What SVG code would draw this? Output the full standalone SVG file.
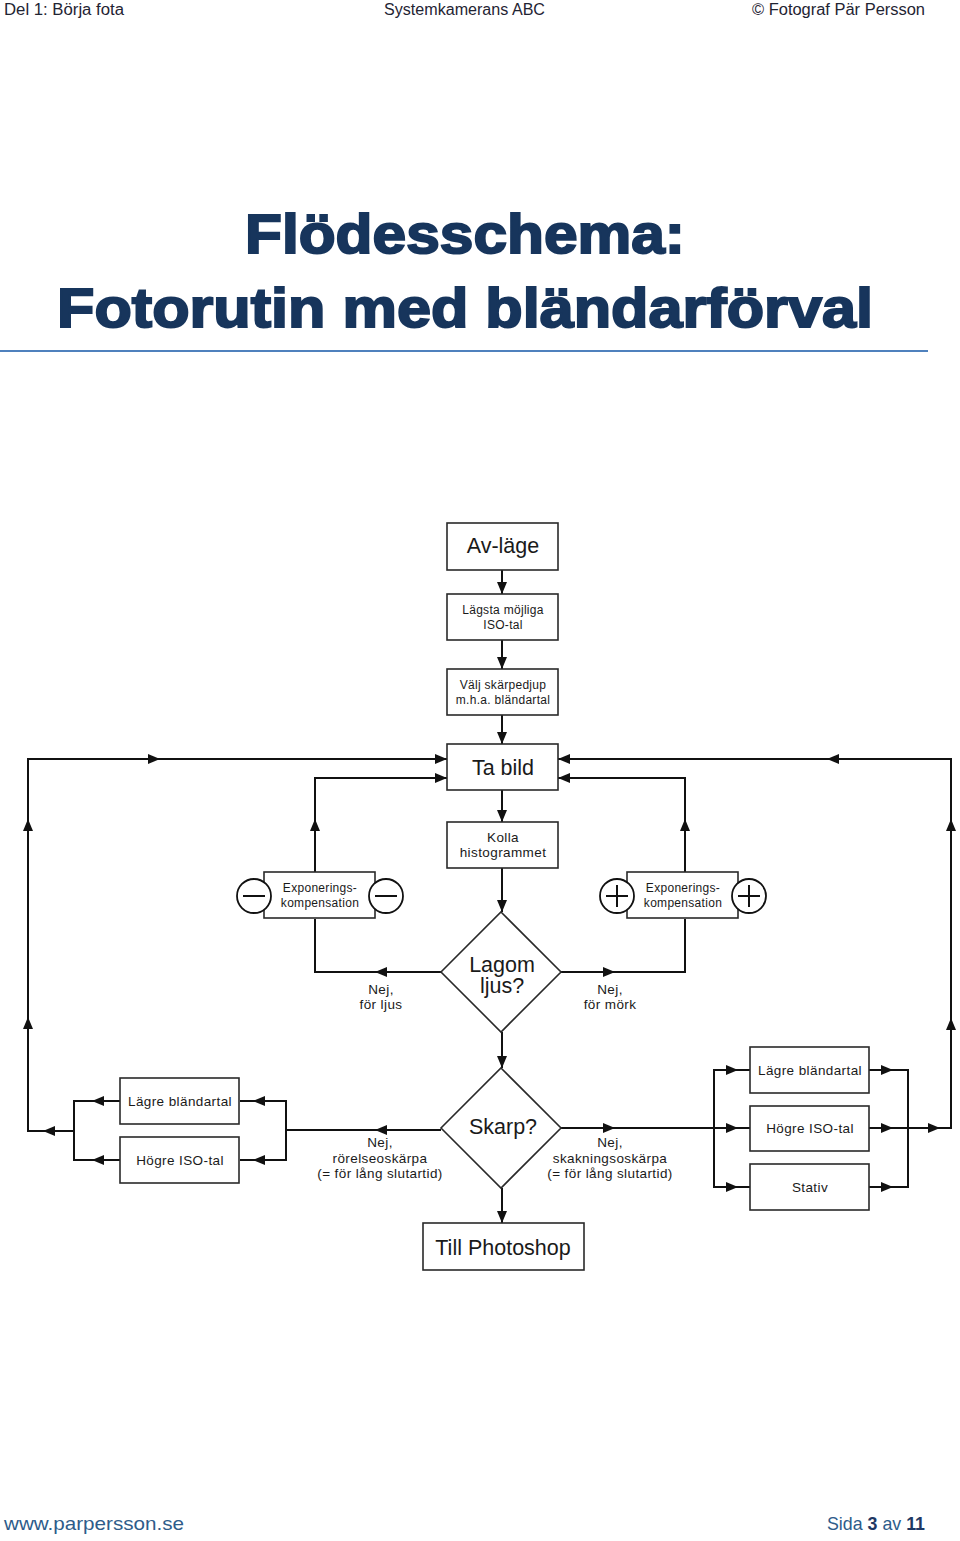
<svg xmlns="http://www.w3.org/2000/svg" width="960" height="1541" viewBox="0 0 960 1541">
<defs>
<marker id="arr" markerUnits="userSpaceOnUse" markerWidth="13" markerHeight="11" refX="12" refY="5.5" orient="auto">
<path d="M0,0.5 L12,5.5 L0,10.5 z" fill="#111"/>
</marker>
</defs>
<style>
.hd{font-family:"Liberation Sans",Arial,sans-serif;font-size:16px;fill:#1F2433}
.ft{font-family:"Liberation Sans",Arial,sans-serif;font-size:19px;fill:#2E5C8A}
.ttl{font-family:"Liberation Sans",Arial,sans-serif;font-weight:bold;font-size:56px;fill:#17355C;stroke:#17355C;stroke-width:2;text-anchor:middle}
.box{fill:#fff;stroke:#2a2a2a;stroke-width:1.6}
.dia{fill:#fff;stroke:#2a2a2a;stroke-width:1.6}
.big{font-family:"Liberation Sans",Arial,sans-serif;font-size:21.5px;fill:#1a1a1a;text-anchor:middle}
.sm{font-family:"Liberation Sans",Arial,sans-serif;font-size:12px;letter-spacing:0.3px;fill:#1a1a1a;text-anchor:middle}
.md{font-family:"Liberation Sans",Arial,sans-serif;font-size:13.5px;letter-spacing:0.4px;fill:#1a1a1a;text-anchor:middle}
.ln{fill:none;stroke:#111;stroke-width:2}
.a{fill:none;stroke:#111;stroke-width:2;marker-end:url(#arr)}
.circ{fill:#fff;stroke:#111;stroke-width:1.8}
.sym{fill:none;stroke:#111;stroke-width:2}
</style>
<rect width="960" height="1541" fill="#fff"/>
<!-- header -->
<text class="hd" x="4" y="15" textLength="120" lengthAdjust="spacingAndGlyphs">Del 1: Börja fota</text>
<text class="hd" x="384" y="15" textLength="161" lengthAdjust="spacingAndGlyphs">Systemkamerans ABC</text>
<text class="hd" x="752" y="15" textLength="173" lengthAdjust="spacingAndGlyphs">© Fotograf Pär Persson</text>
<!-- title -->
<text class="ttl" x="465" y="253" textLength="440" lengthAdjust="spacingAndGlyphs">Flödesschema:</text>
<text class="ttl" x="465" y="327" textLength="816" lengthAdjust="spacingAndGlyphs">Fotorutin med bländarförval</text>
<line x1="0" y1="351" x2="928" y2="351" stroke="#4F81BD" stroke-width="2"/>
<!-- footer -->
<text class="ft" x="4" y="1530" textLength="180" lengthAdjust="spacingAndGlyphs">www.parpersson.se</text>
<text class="ft" x="827" y="1530" textLength="98" lengthAdjust="spacingAndGlyphs">Sida <tspan font-weight="bold" fill="#1F3864">3</tspan> av <tspan font-weight="bold" fill="#1F3864">11</tspan></text>

<!-- connectors -->
<g id="connectors">
<path class="a" d="M502,570 V594"/>
<path class="a" d="M502,640 V669"/>
<path class="a" d="M502,715 V744"/>
<path class="a" d="M502,790 V822"/>
<path class="a" d="M502,868 V912"/>
<path class="a" d="M502,1032 V1068"/>
<path class="a" d="M502,1188 V1223"/>
<!-- left exposure loop -->
<path class="a" d="M441,972 H375"/>
<path class="ln" d="M376,972 H315 V919"/>
<path class="a" d="M315,872 V819"/>
<path class="a" d="M315,820 V778 H447"/>
<!-- right exposure loop -->
<path class="a" d="M561,972 H615"/>
<path class="ln" d="M614,972 H685 V919"/>
<path class="a" d="M685,872 V819"/>
<path class="a" d="M685,820 V778 H558"/>
<!-- left lower loop -->
<path class="a" d="M441,1130 H375"/>
<path class="ln" d="M376,1130 H286"/>
<path class="ln" d="M286,1101 V1160"/>
<path class="a" d="M287,1101 H253"/>
<path class="ln" d="M254,1101 H240"/>
<path class="a" d="M287,1160 H253"/>
<path class="ln" d="M254,1160 H240"/>
<path class="a" d="M120,1101 H92"/>
<path class="ln" d="M93,1101 H73"/>
<path class="a" d="M120,1160 H92"/>
<path class="ln" d="M93,1160 H73"/>
<path class="ln" d="M74,1101 V1160"/>
<path class="a" d="M74,1131 H43"/>
<path class="ln" d="M44,1131 H28"/>
<path class="a" d="M28,1132 V1017"/>
<path class="a" d="M28,1018 V819"/>
<path class="ln" d="M28,820 V759 H150"/>
<path class="a" d="M28,759 H160"/>
<path class="a" d="M159,759 H447"/>
<!-- right lower loop -->
<path class="a" d="M561,1128 H615"/>
<path class="ln" d="M614,1128 H714"/>
<path class="ln" d="M714,1070 V1187"/>
<path class="a" d="M713,1070 H738"/>
<path class="ln" d="M737,1070 H750"/>
<path class="a" d="M713,1128 H738"/>
<path class="ln" d="M737,1128 H750"/>
<path class="a" d="M713,1187 H738"/>
<path class="ln" d="M737,1187 H750"/>
<path class="a" d="M869,1070 H893"/>
<path class="ln" d="M892,1070 H909"/>
<path class="a" d="M869,1128 H893"/>
<path class="ln" d="M892,1128 H908"/>
<path class="a" d="M869,1187 H893"/>
<path class="ln" d="M892,1187 H909"/>
<path class="ln" d="M908,1070 V1187"/>
<path class="a" d="M908,1128 H940"/>
<path class="ln" d="M939,1128 H951"/>
<path class="a" d="M951,1129 V1018"/>
<path class="a" d="M951,1019 V819"/>
<path class="ln" d="M951,820 V759 H900"/>
<path class="a" d="M951,759 H827"/>
<path class="a" d="M828,759 H558"/>
</g>

<!-- nodes -->
<g id="n-avlage">
<rect class="box" x="447" y="523" width="111" height="47"/>
<text class="big" x="503" y="553">Av-läge</text>
</g>
<g id="n-iso">
<rect class="box" x="447" y="594" width="111" height="46"/>
<text class="sm" x="503" y="614">Lägsta möjliga</text>
<text class="sm" x="503" y="629">ISO-tal</text>
</g>
<g id="n-skarpedjup">
<rect class="box" x="447" y="669" width="111" height="46"/>
<text class="sm" x="503" y="689">Välj skärpedjup</text>
<text class="sm" x="503" y="704">m.h.a. bländartal</text>
</g>
<g id="n-tabild">
<rect class="box" x="447" y="744" width="111" height="46"/>
<text class="big" x="503" y="775">Ta bild</text>
</g>
<g id="n-kolla">
<rect class="box" x="447" y="822" width="111" height="46"/>
<text class="md" x="503" y="842">Kolla</text>
<text class="md" x="503" y="857">histogrammet</text>
</g>
<g id="n-lagom">
<polygon class="dia" points="501,912 561,972 501,1032 441,972"/>
<text class="big" x="502" y="972">Lagom</text>
<text class="big" x="502" y="993">ljus?</text>
</g>
<g id="n-expminus">
<rect class="box" x="264" y="872" width="111" height="46"/>
<circle class="circ" cx="254" cy="896" r="17"/>
<circle class="circ" cx="386" cy="896" r="17"/>
<path class="sym" d="M243,896 H265 M375,896 H397"/>
<text class="sm" x="320" y="892">Exponerings-</text>
<text class="sm" x="320" y="907">kompensation</text>
</g>
<g id="n-expplus">
<rect class="box" x="627" y="872" width="111" height="46"/>
<circle class="circ" cx="617" cy="896" r="17"/>
<circle class="circ" cx="749" cy="896" r="17"/>
<path class="sym" d="M606,896 H628 M617,885 V907 M738,896 H760 M749,885 V907"/>
<text class="sm" x="683" y="892">Exponerings-</text>
<text class="sm" x="683" y="907">kompensation</text>
</g>
<g id="lbl-ljus">
<text class="md" x="381" y="994">Nej,</text>
<text class="md" x="381" y="1009">för ljus</text>
</g>
<g id="lbl-mork">
<text class="md" x="610" y="994">Nej,</text>
<text class="md" x="610" y="1009">för mörk</text>
</g>
<g id="n-skarp">
<polygon class="dia" points="501,1068 561,1128 501,1188 441,1128"/>
<text class="big" x="503" y="1134">Skarp?</text>
</g>
<g id="lbl-rorelse">
<text class="md" x="380" y="1147">Nej,</text>
<text class="md" x="380" y="1163">rörelseoskärpa</text>
<text class="md" x="380" y="1178">(= för lång slutartid)</text>
</g>
<g id="lbl-skakning">
<text class="md" x="610" y="1147">Nej,</text>
<text class="md" x="610" y="1163">skakningsoskärpa</text>
<text class="md" x="610" y="1178">(= för lång slutartid)</text>
</g>
<g id="n-photoshop">
<rect class="box" x="423" y="1223" width="161" height="47"/>
<text class="big" x="503" y="1255">Till Photoshop</text>
</g>
<g id="n-l-lagre">
<rect class="box" x="120" y="1078" width="119" height="46"/>
<text class="md" x="180" y="1106">Lägre bländartal</text>
</g>
<g id="n-l-hogre">
<rect class="box" x="120" y="1137" width="119" height="46"/>
<text class="md" x="180" y="1165">Högre ISO-tal</text>
</g>
<g id="n-r-lagre">
<rect class="box" x="750" y="1047" width="119" height="46"/>
<text class="md" x="810" y="1075">Lägre bländartal</text>
</g>
<g id="n-r-hogre">
<rect class="box" x="750" y="1106" width="119" height="45"/>
<text class="md" x="810" y="1133">Högre ISO-tal</text>
</g>
<g id="n-r-stativ">
<rect class="box" x="750" y="1164" width="119" height="46"/>
<text class="md" x="810" y="1192">Stativ</text>
</g>
</svg>
